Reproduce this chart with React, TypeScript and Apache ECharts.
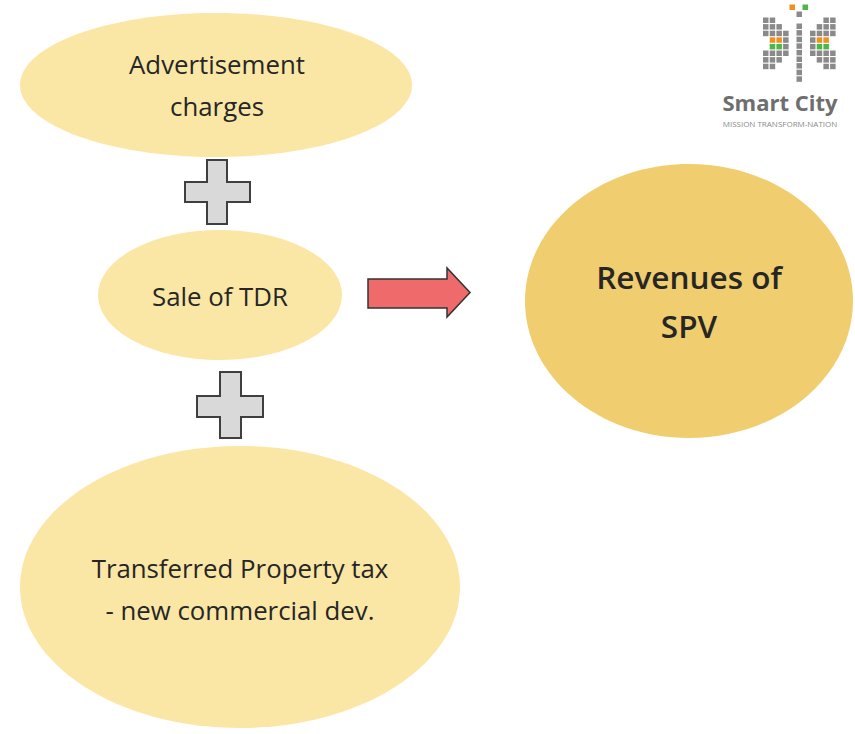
import React, { useEffect, useRef } from "react";
import * as echarts from "echarts";

const sourceLabels: string[][] = [
  ["Advertisement", "charges"],
  ["Sale of TDR"],
  ["Transferred Property tax", "- new commercial dev."],
];
const targetLabel: string[] = ["Revenues of", "SPV"];
const logoTitle = "Smart City";
const logoSubtitle = "MISSION TRANSFORM-NATION";
// logo grid: g = gray, o = orange, n = green, . = empty
const logoLeftWing: string[] = ["gg..", "ggg.", "gggg", ".oog", ".nng", "gggg", "ggg.", "gg.."];
const logoRightWing: string[] = ["..gg", ".ggg", "gggg", "goo.", "gnn.", "gggg", ".ggg", "..gg"];

const LIGHT = "#FBE7A5";
const DARK = "#F0CD6E";
const TEXT = "#262626";

export default function App() {
  const ref = useRef<HTMLDivElement>(null);
  useEffect(() => {
    if (!ref.current) return;
    const chart = echarts.init(ref.current, undefined, { renderer: "svg" });
    const els: any[] = [];
    const ellipse = (cx: number, cy: number, rx: number, ry: number, fill: string) =>
      els.push({ type: "ellipse", shape: { cx, cy, rx, ry }, style: { fill } });
    ellipse(216, 85, 196, 72, LIGHT);
    ellipse(220, 295, 122, 65, LIGHT);
    ellipse(240, 587, 220, 141, LIGHT);
    ellipse(689, 301, 164, 137, DARK);

    const plus = (l: number, r: number, t: number, b: number, vl: number, vr: number, ht: number, hb: number) =>
      els.push({
        type: "polygon",
        shape: {
          points: [
            [vl, t], [vr, t], [vr, ht], [r, ht], [r, hb], [vr, hb], [vr, b], [vl, b], [vl, hb], [l, hb], [l, ht], [vl, ht],
          ],
        },
        style: { fill: "#D9D9D9", stroke: "#3F3F3F", lineWidth: 2 },
      });
    plus(185, 250, 160, 224, 207, 227, 182, 202);
    plus(197, 263, 372, 438, 220, 241, 396, 417);

    els.push({
      type: "polygon",
      shape: {
        points: [[368, 279], [447, 279], [447, 268], [470, 292.5], [447, 317], [447, 308], [368, 308]],
      },
      style: { fill: "#EF6B6B", stroke: "#333333", lineWidth: 1.5 },
    });

    const txt = (x: number, y: number, text: string, size: number, weight: any, color = TEXT) =>
      els.push({
        type: "text",
        x,
        y,
        style: {
          text,
          fill: color,
          font: `${weight} ${size}px "Open Sans", sans-serif`,
          textAlign: "center",
          textVerticalAlign: "middle",
        },
      });
    txt(217, 64, sourceLabels[0][0], 25.8, "normal");
    txt(217, 106, sourceLabels[0][1], 25.8, "normal");
    txt(220, 296, sourceLabels[1][0], 25.8, "normal");
    txt(240, 568, sourceLabels[2][0], 25.8, "normal");
    txt(240, 610, sourceLabels[2][1], 25.8, "normal");
    txt(689, 276, targetLabel[0], 31.5, 600);
    txt(689, 325, targetLabel[1], 31.5, 600);

    // logo
    const sq = (x: number, y: number, c: string) =>
      els.push({ type: "rect", shape: { x, y, width: 5.5, height: 5.5 }, style: { fill: c } });
    const col: Record<string, string> = { g: "#8A8A8A", o: "#F0901E", n: "#4CB748" };
    sq(789.5, 4.5, col.o);
    sq(802.5, 4.5, col.n);
    sq(796.5, 11.5, col.g);
    for (let i = 0; i < 9; i++) sq(796.5, 23.5 + i * 6.6, col.g);
    logoLeftWing.forEach((row, r) =>
      row.split("").forEach((c, k) => { if (c !== ".") sq(763 + k * 6.7, 17.5 + r * 6.6, col[c]); })
    );
    logoRightWing.forEach((row, r) =>
      row.split("").forEach((c, k) => { if (c !== ".") sq(810 + k * 6.7, 17.5 + r * 6.6, col[c]); })
    );
    els.push({
      type: "text",
      x: 780,
      y: 102,
      style: { text: logoTitle, fill: "#6E6E6E", font: 'bold 22px "Open Sans", sans-serif', textAlign: "center", textVerticalAlign: "middle" },
    });
    els.push({
      type: "text",
      x: 780,
      y: 123,
      style: { text: logoSubtitle, fill: "#8A8A8A", font: '8px "Open Sans", sans-serif', textAlign: "center", textVerticalAlign: "middle" },
    });

    chart.setOption({ animation: false, graphic: { elements: els } });
    return () => chart.dispose();
  }, []);
  return <div ref={ref} style={{ position: "fixed", left: 0, top: 0, width: 855, height: 734, background: "#fff" }} />;
}
